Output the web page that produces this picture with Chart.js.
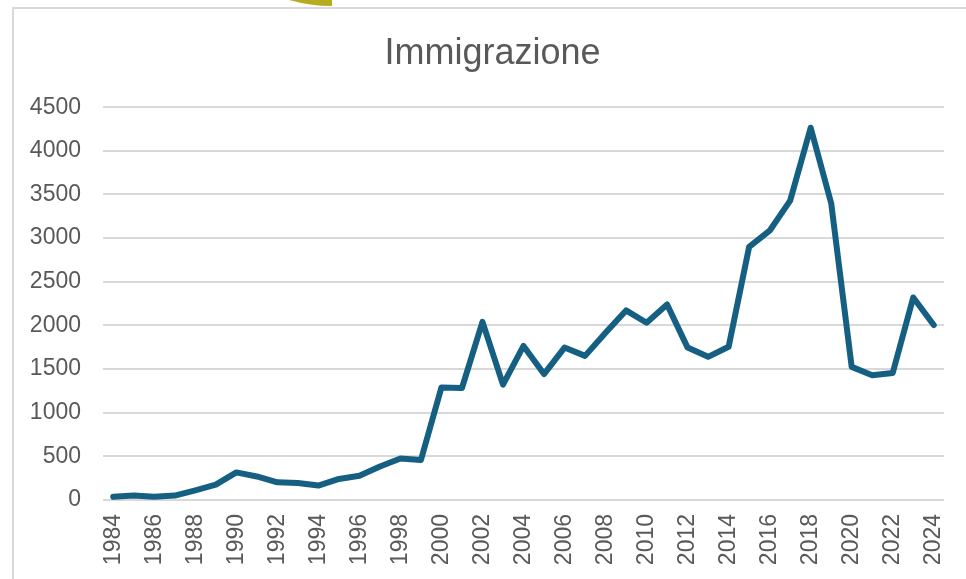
<!DOCTYPE html>
<html>
<head>
<meta charset="utf-8">
<script src="https://cdn.jsdelivr.net/npm/chart.js@4/dist/chart.umd.min.js"></script>
<style>
  html, body { margin: 0; padding: 0; background: #fff; overflow: hidden; }
  #frame { position: absolute; left: 12px; top: 7px; width: 1000px; height: 700px;
           border-left: 2px solid #d9d9d9; border-top: 2px solid #d9d9d9; }
  #arcClip { position: absolute; left: 0; top: 0; width: 332px; height: 7px; overflow: hidden; }
  #arc { position: absolute; left: 177px; top: -304px; width: 298px; height: 298px;
         border: 6px solid #b5ad1f; border-radius: 50%; }
  #chart { position: absolute; left: 0; top: 0; }
</style>
</head>
<body>
<div id="frame"></div>
<div id="arcClip"><div id="arc"></div></div>
<canvas id="chart" width="966" height="579"></canvas>
<script>
// anni
const years = [
  '1984', '1985', '1986', '1987', '1988', '1989', '1990', '1991', '1992', '1993',
  '1994', '1995', '1996', '1997', '1998', '1999', '2000', '2001', '2002', '2003',
  '2004', '2005', '2006', '2007', '2008', '2009', '2010', '2011', '2012', '2013',
  '2014', '2015', '2016', '2017', '2018', '2019', '2020', '2021', '2022', '2023',
  '2024'
];

// immigrati per anno
const immigrazione = [
  36, 51, 36, 51, 111, 176, 316, 270, 202, 195,
  165, 241, 278, 384, 475, 458, 1290, 1283, 2040, 1322,
  1765, 1443, 1746, 1651, 1917, 2172, 2031, 2240, 1746, 1640,
  1755, 2900, 3085, 3430, 4265, 3400, 1525, 1430, 1455, 2320,
  2005
];

const yTicks = [0, 500, 1000, 1500, 2000, 2500, 3000, 3500, 4000, 4500];

const GREY = '#595959';
const GRID = '#d9d9d9';
const FONT = "'Liberation Sans', Arial, sans-serif";

// il titolo nell'originale è centrato un po' più a destra del canvas
const shiftTitle = {
  id: 'shiftTitle',
  afterLayout(chart) {
    if (chart.titleBlock) {
      chart.titleBlock.left = 41;
    }
  }
};

new Chart(document.getElementById('chart'), {
  type: 'line',
  data: {
    labels: years,
    datasets: [{
      label: 'Immigrazione',
      data: immigrazione,
      borderColor: '#156082',
      borderWidth: 6,
      borderJoinStyle: 'round',
      borderCapStyle: 'round',
      pointRadius: 0,
      tension: 0,
      fill: false
    }]
  },
  options: {
    responsive: false,
    animation: false,
    layout: {
      padding: {top: 0, left: 0, right: 22, bottom: 0}
    },
    plugins: {
      legend: {display: false},
      tooltip: {enabled: false},
      title: {
        display: true,
        text: 'Immigrazione',
        color: GREY,
        font: {family: FONT, size: 36, weight: 'normal'},
        padding: {top: 32, bottom: 32}
      }
    },
    scales: {
      x: {
        offset: true,
        grid: {display: false, drawTicks: false},
        border: {display: false},
        ticks: {
          color: GREY,
          font: {family: FONT, size: 23},
          autoSkip: false,
          maxRotation: 90,
          minRotation: 90,
          padding: 14,
          callback: function(value, index) {
            return index % 2 === 0 ? years[index] : '';
          }
        },
        afterFit: scale => {
          scale.height = 79;
          scale.paddingLeft = 0;
          scale.paddingRight = 0;
        }
      },
      y: {
        min: 0,
        max: 4500,
        afterBuildTicks: scale => { scale.ticks = yTicks.map(v => ({value: v})); },
        grid: {color: GRID, lineWidth: 2, drawTicks: false},
        border: {display: false},
        ticks: {
          color: GREY,
          font: {family: FONT, size: 23},
          padding: 22,
          callback: value => String(value)
        },
        afterFit: scale => { scale.width = 103; }
      }
    }
  },
  plugins: [shiftTitle]
});
</script>
</body>
</html>
